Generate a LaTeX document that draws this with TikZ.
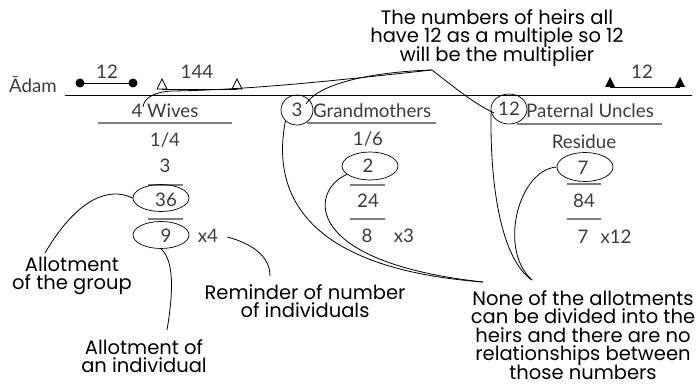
\documentclass[tikz,border=0pt]{standalone}
\usepackage{fontspec}
\setmainfont{Lato}
\newfontfamily\notefont{Poppins}
\usetikzlibrary{shapes.geometric,calc}
\definecolor{inkgray}{RGB}{60,60,60}
\definecolor{rulegray}{RGB}{125,125,125}
\newcommand\notesize{\fontsize{19.5}{18.5}\selectfont\lineskiplimit-8pt\relax}

\begin{document}
\begin{tikzpicture}[
    x=1pt,
    y=-1pt
]

\tikzset{
    t/.style={
        text=inkgray,
        font=\fontsize{18.7}{21}\selectfont,
        inner sep=0pt
    },
    note/.style={
        align=center,
        font={\notefont\notesize},
        inner sep=0pt
    },
    oval/.style={
        ellipse,
        draw,
        line width=0.7pt,
        minimum width=56pt,
        minimum height=27pt,
        inner sep=0pt
    },
    ring/.style={
        oval,
        text=inkgray,
        font=\fontsize{18.7}{21}\selectfont,
        minimum width=32pt,
        minimum height=30pt
    },
    rl/.style={rulegray,line width=1.3pt},
    lk/.style={line width=0.8pt}
}

\useasboundingbox (0,0) rectangle (700,385);

\node[t] (adam) at (33,85) {Ādam};
\draw[line width=0.9pt] (65,95) -- (692,95);

\coordinate (d1) at (80,83);
\coordinate (d2) at (133,83);
\draw[line width=0.8pt] (d1) -- (d2);
\fill (d1) circle[radius=4.5pt] (d2) circle[radius=4.5pt];
\node[t] (twelveA) at (107,72) {12};

\coordinate (w1) at (162,89);
\coordinate (w2) at (237,89);
\draw[line width=0.8pt] (w1) -- (w2);
\draw[line width=0.7pt,fill=white] (w1) ++(-5,0) -- ++(5,-10) -- ++(5,10) -- cycle;
\draw[line width=0.7pt,fill=white] (w2) ++(-5,0) -- ++(5,-10) -- ++(5,10) -- cycle;
\node[t] (oneforty) at (197,72) {144};

\coordinate (u1) at (610,87);
\coordinate (u2) at (680,87);
\draw[line width=0.8pt] (u1) -- (u2);
\fill (u1) ++(-5,0) -- ++(5,-10) -- ++(5,10) -- cycle;
\fill (u2) ++(-5,0) -- ++(5,-10) -- ++(5,10) -- cycle;
\node[t] (twelveB) at (642,72) {12};

\node[t] (wives) at (165,111) {4 Wives};
\draw[rl] (98,123) -- (232,123);

\node[ring] (c3) at (297,110) {3};
\node[t,anchor=west] (gm) at (313,111) {Grandmothers};
\draw[rl] (307,123) -- (436,123);

\node[ring,minimum width=36pt] (c12) at (509,109) {12};
\node[t,anchor=west] (pu) at (526,111) {Paternal Uncles};
\draw[rl] (517,124) -- (662,124);

\node[t] (q1) at (165,140) {1/4};
\node[t] (s1) at (165,166) {3};
\draw[rl] (148,185) -- (183,185);
\node[oval] (c36) at (161,198) {};
\node[t] (g1) at (166,200) {36};
\draw[rl] (148,219) -- (183,219);
\node[oval] (c9) at (161,235) {};
\node[t] (i1) at (166,236) {9};
\node[t] (x4) at (208,236) {x4};

\node[t] (q2) at (368,139) {1/6};
\node[oval,minimum height=28pt] (c2) at (370,166) {};
\node[t] (s2) at (368,166) {2};
\draw[rl] (350,185) -- (385,185);
\node[t] (g2) at (368,201) {24};
\draw[rl] (350,219) -- (385,219);
\node[t] (i2) at (367,236) {8};
\node[t] (x3) at (404,236) {x3};

\node[t] (res) at (584,142) {Residue};
\node[oval,minimum height=29pt] (c7) at (585,167) {};
\node[t] (s3) at (583,168) {7};
\draw[rl] (567,184) -- (601,184);
\node[t] (g3) at (584,201) {84};
\draw[rl] (567,219) -- (601,219);
\node[t] (i3) at (583,237) {7};
\node[t] (x12) at (616,237) {x12};

\node[note] (top) at (497,38)
{The numbers of heirs all\\have 12 as a multiple so 12\\will be the multiplier};
\node[note] (grp) at (72,276) {Allotment\\of the group};
\node[note] (ind) at (144,356) {Allotment of\\an individual};
\node[note] (rem) at (305,301) {Reminder of number\\of individuals};
\node[note] (none) at (583,335)
{None of the allotments\\can be divided into the\\heirs and there are no\\relationships between\\those numbers};

\coordinate (hub) at (432,70);
\coordinate (four) at (143,107);
\coordinate (grptip) at (45,253);
\coordinate (indtip) at (167,330);
\coordinate (remtip) at (270,276);
\coordinate (noneL) at (483,282);
\coordinate (noneR) at (532,280);

\draw[lk] (hub) .. controls (340,80) and (250,90) .. (172,91)
    .. controls (152,92) and (144,99) .. (four);
\draw[lk] (hub) .. controls (370,72) and (318,84) .. ($(c3)+(9,-6)$);
\draw[lk] (hub) .. controls (455,88) and (475,104) .. ($(c12)+(-15,4)$);

\draw[lk] (c36.west) .. controls (108,186) and (76,200) .. (grptip);
\draw[lk] (c9.south) .. controls (176,262) and (172,300) .. (indtip);
\draw[lk] ($(x4.east)+(9,1)$) .. controls (250,243) and (270,255) .. (remtip);

\draw[lk] (c3.south west) .. controls (272,190) and (300,268) .. (noneL);
\draw[lk] (c2.200) .. controls (310,190) and (300,262) .. (noneL);
\draw[lk] ($(c12)+(-18,4)$) .. controls (490,200) and (505,262) .. (noneR);
\draw[lk] (c7.west) .. controls (518,170) and (498,250) .. (noneR);

\end{tikzpicture}
\end{document}
